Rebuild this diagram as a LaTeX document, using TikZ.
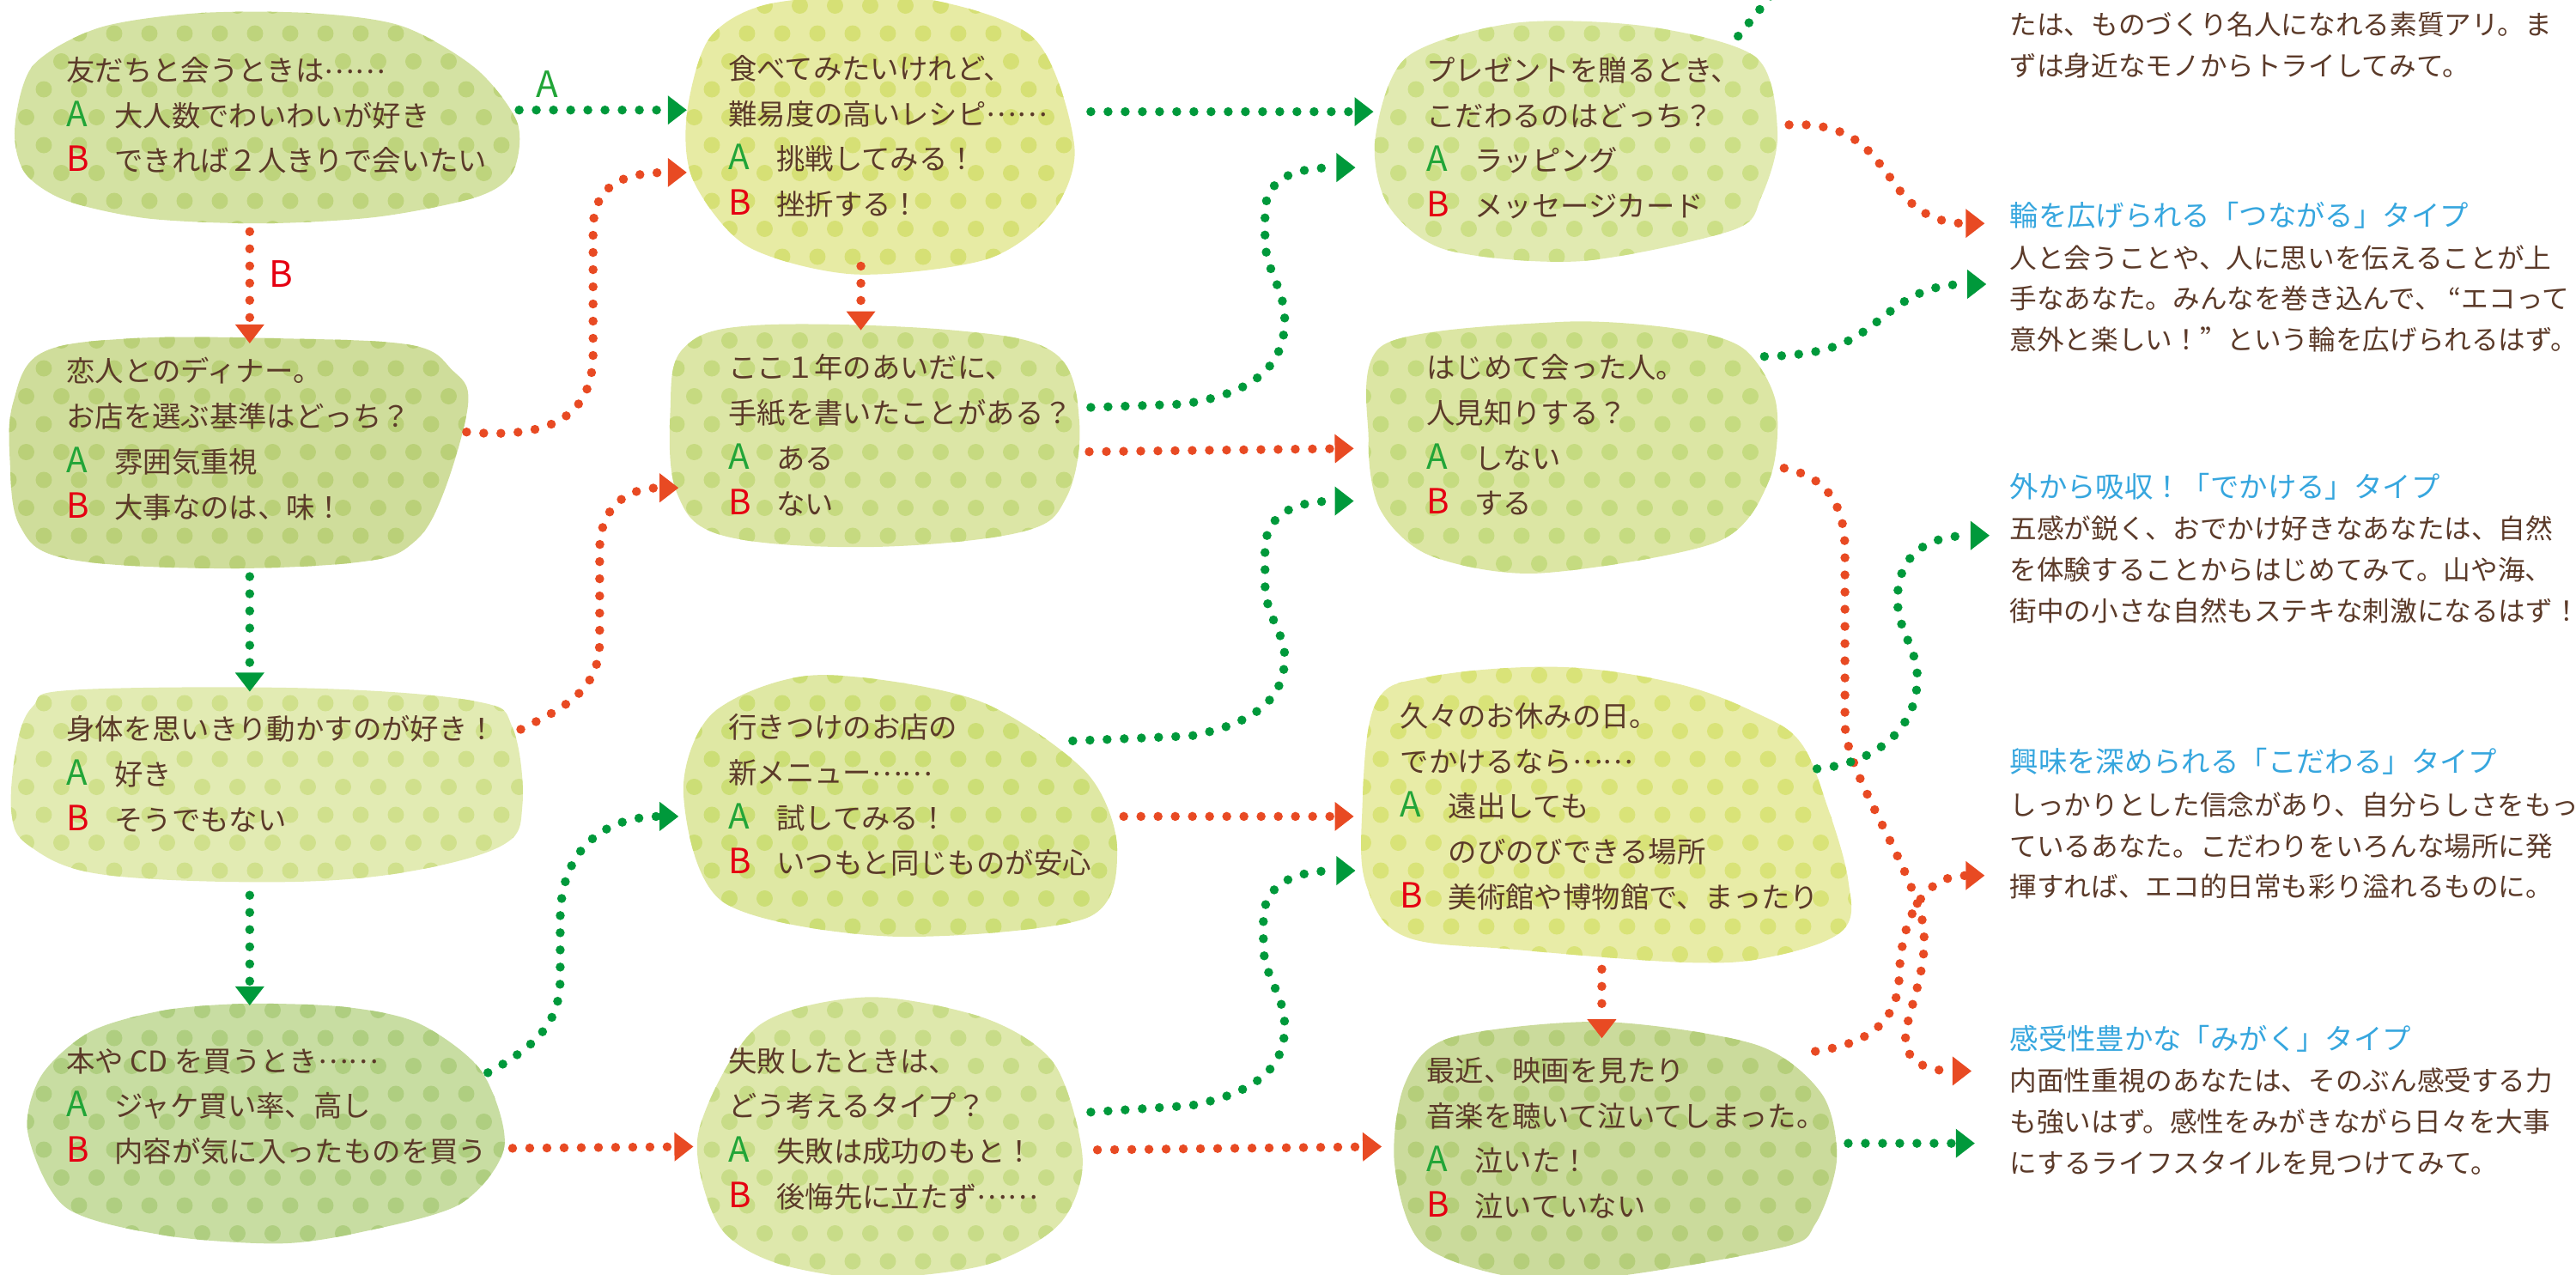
\documentclass[tikz,border=0pt]{standalone}
\usepackage{fontspec}
\setmainfont{Noto Sans CJK JP}
\usetikzlibrary{arrows.meta,patterns.meta}

\definecolor{ink}{HTML}{5B3A29}
\definecolor{agreen}{HTML}{22A538}
\definecolor{bred}{HTML}{E50012}
\definecolor{typeblue}{HTML}{36A6DE}
\definecolor{linkgreen}{HTML}{00993B}
\definecolor{linkred}{HTML}{E84A23}
\definecolor{bg1}{HTML}{D4E2A3}  \definecolor{dt1}{HTML}{BED47C}
\definecolor{bg2}{HTML}{CFDD9B}  \definecolor{dt2}{HTML}{BAD078}
\definecolor{bg3}{HTML}{E2EBB3}  \definecolor{dt3}{HTML}{D0E08C}
\definecolor{bg4}{HTML}{C8DDA2}  \definecolor{dt4}{HTML}{AFCE80}
\definecolor{bg5}{HTML}{E7EBA4}  \definecolor{dt5}{HTML}{D6E075}
\definecolor{bg6}{HTML}{DCE6A6}  \definecolor{dt6}{HTML}{C6DA80}
\definecolor{bg7}{HTML}{DFE8A4}  \definecolor{dt7}{HTML}{CCDE76}
\definecolor{bg8}{HTML}{DEE8AC}  \definecolor{dt8}{HTML}{C8DC88}
\definecolor{bg9}{HTML}{E1EAB1}  \definecolor{dt9}{HTML}{CCDF86}
\definecolor{bg10}{HTML}{DCE6A4} \definecolor{dt10}{HTML}{C5DB80}
\definecolor{bg11}{HTML}{E8ECA7} \definecolor{dt11}{HTML}{D9E378}
\definecolor{bg12}{HTML}{CBDB9C} \definecolor{dt12}{HTML}{B5CE7A}

\tikzdeclarepattern{
  name=spots, type=uncolored,
  bounding box={(0,0) and (0.41cm,0.65cm)},
  tile size={(0.41cm,0.65cm)},
  code={
    \fill (0.1cm,0.16cm) circle (0.095cm);
    \fill (0.305cm,0.485cm) circle (0.095cm);
  }
}

\newcommand\optA[1]{\makebox[0.56cm][l]{\fontsize{11.5pt}{15pt}\selectfont\textcolor{agreen}{A}}#1}
\newcommand\optB[1]{\makebox[0.56cm][l]{\fontsize{11.5pt}{15pt}\selectfont\textcolor{bred}{B}}#1}
\newcommand\jdots{{\addfontfeature{CharacterWidth=Full}\raisebox{0.28em}{……}}}
\newcommand\jq[1]{{\addfontfeature{CharacterWidth=Full}#1}}

\begin{document}
\begin{tikzpicture}[
  x=0.019133cm, y=-0.019133cm,
  blob/.style 2 args={fill=#1, postaction={pattern=spots, pattern color=#2}},
  qtext/.style={anchor=north west, inner sep=0pt, yshift=6.9pt, align=left, text=ink,
    font=\fontsize{9.5pt}{15pt}\selectfont, execute at begin node=\strut},
  ttitle/.style={anchor=north west, inner sep=0pt, yshift=6.9pt, text=typeblue,
    font=\fontsize{9.5pt}{15pt}\selectfont, execute at begin node=\strut},
  tbody/.style={anchor=north west, inner sep=0pt, yshift=6.1pt, align=left, text=ink,
    font=\fontsize{9pt}{13.6pt}\selectfont, execute at begin node=\strut},
  link/.style={line width=0.105cm, line cap=round, dash pattern=on 0pt off 0.2cm,
    -{Triangle[length=0.22cm, width=0.34cm, line width=0pt]}},
  pathA/.style={link, draw=linkgreen, fill=none, color=linkgreen},
  pathB/.style={link, draw=linkred, fill=none, color=linkred},
  lbl/.style={inner sep=0pt, font=\fontsize{12pt}{14pt}\selectfont}
]
\useasboundingbox (0,0) rectangle (1568,776);
\clip (0,0) rectangle (1568,776);

\path[blob={bg1}{dt1}] plot[smooth cycle] coordinates {(9,78) (20,40) (60,17) (120,8) (190,8) (245,16) (290,42) (315,75) (312,105) (290,120) (230,132) (160,136) (90,133) (40,122) (15,105)};
\path[blob={bg2}{dt2}] plot[smooth cycle, tension=0.6] coordinates {(8,245) (25,215) (80,206) (170,206) (250,210) (275,225) (285,245) (270,300) (252,330) (220,342) (130,346) (40,340) (12,320) (6,280)};
\path[blob={bg3}{dt3}] plot[smooth cycle, tension=0.6] coordinates {(10,455) (20,430) (45,420) (190,419) (290,427) (312,443) (318,490) (305,515) (240,532) (160,537) (60,532) (18,515) (7,495)};
\path[blob={bg4}{dt4}] plot[smooth cycle] coordinates {(17,690) (25,655) (55,628) (100,615) (150,611) (210,613) (255,623) (293,652) (307,698) (280,733) (220,750) (170,757) (100,752) (40,735)};
\path[blob={bg5}{dt5}] plot[smooth cycle] coordinates {(432,23) (470,2) (555,-2) (629,23) (654,89) (640,130) (600,158) (520,167) (455,150) (422,110) (418,70)};
\path[blob={bg6}{dt6}] plot[smooth cycle, tension=0.6] coordinates {(416,212) (460,198) (580,201) (642,215) (657,257) (649,303) (621,324) (528,333) (440,326) (412,300) (408,250)};
\path[blob={bg7}{dt7}] plot[smooth cycle] coordinates {(434,434) (496,411) (594,426) (661,470) (680,517) (661,559) (541,570) (440,549) (416,483)};
\path[blob={bg8}{dt8}] plot[smooth cycle] coordinates {(461,625) (528,607) (600,620) (642,648) (659,706) (645,745) (600,770) (528,778) (470,768) (437,745) (425,690)};
\path[blob={bg9}{dt9}] plot[smooth cycle] coordinates {(856,35) (922,14) (1002,16) (1069,35) (1082,82) (1072,120) (1055,140) (962,159) (880,152) (845,125) (837,85)};
\path[blob={bg10}{dt10}] plot[smooth cycle] coordinates {(842,210) (949,196) (1020,200) (1061,212) (1081,245) (1077,292) (1045,330) (936,349) (870,338) (840,310) (833,268)};
\path[blob={bg11}{dt11}] plot[smooth cycle, tension=0.6] coordinates {(837,429) (870,412) (949,406) (1020,416) (1069,434) (1096,452) (1112,490) (1125,536) (1122,566) (1080,582) (1029,586) (922,578) (855,570) (832,540) (829,497)};
\path[blob={bg12}{dt12}] plot[smooth cycle] coordinates {(882,632) (975,622) (1069,636) (1109,666) (1118,706) (1105,745) (1082,760) (949,780) (869,760) (849,710) (855,660)};

\coordinate (q1A) at (316,67);    \coordinate (q5i1) at (418,67);
\coordinate (q1B) at (152,141);   \coordinate (q2i) at (152,209);
\coordinate (q2B) at (284,263);   \coordinate (q5i2) at (418,105);
\coordinate (q2A) at (152,351);   \coordinate (q3i) at (152,421);
\coordinate (q3B) at (317,444);   \coordinate (q6i1) at (413,297);
\coordinate (q3A) at (152,545);   \coordinate (q4i) at (152,612);
\coordinate (q4A) at (297,653);   \coordinate (q7i) at (413,497);
\coordinate (q4B) at (312,699);   \coordinate (q8i) at (422,698);
\coordinate (q5A) at (664,68);    \coordinate (q9i1) at (836,68);
\coordinate (q5B) at (524,162);   \coordinate (q6i2) at (524,201);
\coordinate (q6A) at (664,248);   \coordinate (q9i2) at (825,102);
\coordinate (q6B) at (663,275);   \coordinate (q10i1) at (824,273);
\coordinate (q7A) at (653,451);   \coordinate (q10i2) at (824,305);
\coordinate (q7B) at (684,497);   \coordinate (q11i1) at (824,497);
\coordinate (q8A) at (664,677);   \coordinate (q11i2) at (825,530);
\coordinate (q8B) at (668,700);   \coordinate (q12i1) at (841,698);
\coordinate (q9A) at (1058,22);   \coordinate (t0i) at (1092,-20);
\coordinate (q9B) at (1089,76);   \coordinate (t1i1) at (1208,136);
\coordinate (q10A) at (1074,217); \coordinate (t1i2) at (1209,173);
\coordinate (q10B) at (1086,285); \coordinate (t4i1) at (1200,652);
\coordinate (q11A) at (1106,468); \coordinate (t2i) at (1211,326);
\coordinate (q11B) at (975,590);  \coordinate (q12i2) at (975,632);
\coordinate (q12A) at (1125,696); \coordinate (t4i2) at (1202,696);
\coordinate (q12B) at (1105,640); \coordinate (t3i) at (1208,533);

\draw[pathA] (q1A) -- (q5i1);
\draw[pathB] (q1B) -- (q2i);
\draw[pathB] (q2B) .. controls (340,268) and (361,250) .. (361,215) -- (361,140) .. controls (361,112) and (380,105) .. (q5i2);
\draw[pathA] (q2A) -- (q3i);
\draw[pathB] (q3B) .. controls (345,430) and (365,420) .. (365,390) -- (365,335) .. controls (365,310) and (380,297) .. (q6i1);
\draw[pathA] (q3A) -- (q4i);
\draw[pathA] (q4A) .. controls (330,635) and (341,620) .. (341,595) -- (341,560) .. controls (341,515) and (370,497) .. (q7i);
\draw[pathB] (q4B) -- (q8i);
\draw[pathA] (q5A) -- (q9i1);
\draw[pathB] (q5B) -- (q6i2);
\draw[pathA] (q6A) -- (720,246) .. controls (760,240) and (782,225) .. (782,195) .. controls (782,175) and (770,165) .. (770,145) -- (770,130) .. controls (770,110) and (785,102) .. (q9i2);
\draw[pathB] (q6B) -- (q10i1);
\draw[pathA] (q7A) -- (725,448) .. controls (765,440) and (782,425) .. (782,400) .. controls (782,385) and (770,375) .. (770,355) -- (770,335) .. controls (770,315) and (785,305) .. (q10i2);
\draw[pathB] (q7B) -- (q11i1);
\draw[pathA] (q8A) -- (725,673) .. controls (765,665) and (782,650) .. (782,625) .. controls (782,605) and (769,595) .. (769,575) -- (769,560) .. controls (769,540) and (785,530) .. (q11i2);
\draw[pathB] (q8B) -- (q12i1);
\draw[pathA] (q9A) -- (t0i);
\draw[pathB] (q9B) .. controls (1130,74) and (1140,95) .. (1152,110) .. controls (1162,125) and (1175,136) .. (t1i1);
\draw[pathA] (q10A) .. controls (1120,216) and (1130,205) .. (1145,194) .. controls (1162,180) and (1175,173) .. (t1i2);
\draw[pathB] (q10B) .. controls (1110,290) and (1123,305) .. (1123,335) -- (1123,440) .. controls (1123,470) and (1160,520) .. (1170,560) .. controls (1176,590) and (1158,620) .. (1160,635) .. controls (1162,650) and (1180,652) .. (t4i1);
\draw[pathA] (q11A) .. controls (1140,465) and (1166,445) .. (1167,415) .. controls (1168,395) and (1155,385) .. (1155,365) .. controls (1155,340) and (1170,326) .. (t2i);
\draw[pathB] (q11B) -- (q12i2);
\draw[pathA] (q12A) -- (t4i2);
\draw[pathB] (q12B) .. controls (1140,635) and (1155,620) .. (1156,595) .. controls (1157,560) and (1170,533) .. (t3i);

\node[lbl, text=agreen] (labA) at (333,51) {A};
\node[lbl, text=bred] (labB) at (171,167) {B};

\node[qtext] (q1) at (40,47) {友だちと会うときは\jdots\\\optA{大人数でわいわいが好き}\\\optB{できれば２人きりで会いたい}};
\node[qtext] (q2) at (40,230) {恋人とのディナー。\\お店を選ぶ基準はどっち？\\\optA{雰囲気重視}\\\optB{大事なのは、味！}};
\node[qtext] (q3) at (40,448) {身体を思いきり動かすのが好き！\\\optA{好き}\\\optB{そうでもない}};
\node[qtext] (q4) at (40,650) {本や CD を買うとき\jdots\\\optA{ジャケ買い率、高し}\\\optB{内容が気に入ったものを買う}};
\node[qtext] (q5) at (443,46) {食べてみたいけれど、\\難易度の高いレシピ\jdots\\\optA{挑戦してみる！}\\\optB{挫折する！}};
\node[qtext] (q6) at (443,228) {ここ１年のあいだに、\\手紙を書いたことがある？\\\optA{ある}\\\optB{ない}};
\node[qtext] (q7) at (443,447) {行きつけのお店の\\新メニュー\jdots\\\optA{試してみる！}\\\optB{いつもと同じものが安心}};
\node[qtext] (q8) at (443,650) {失敗したときは、\\どう考えるタイプ？\\\optA{失敗は成功のもと！}\\\optB{後悔先に立たず\jdots}};
\node[qtext] (q9) at (868,47) {プレゼントを贈るとき、\\こだわるのはどっち？\\\optA{ラッピング}\\\optB{メッセージカード}};
\node[qtext] (q10) at (868,228) {はじめて会った人。\\人見知りする？\\\optA{しない}\\\optB{する}};
\node[qtext] (q11) at (852,440) {久々のお休みの日。\\でかけるなら\jdots\\\optA{遠出しても}\\\hspace*{0.56cm}のびのびできる場所\\\optB{美術館や博物館で、まったり}};
\node[qtext] (q12) at (868,656) {最近、映画を見たり\\音楽を聴いて泣いてしまった。\\\optA{泣いた！}\\\optB{泣いていない}};

\node[tbody] (t0b) at (1223,18) {たは、ものづくり名人になれる素質アリ。ま\\ずは身近なモノからトライしてみて。};
\node[ttitle] (t1) at (1223,131) {輪を広げられる「つながる」タイプ};
\node[tbody] (t1b) at (1223,160) {人と会うことや、人に思いを伝えることが上\\手なあなた。みんなを巻き込んで、\hspace{0.25em}“エコって\\意外と楽しい！\jq{”}という輪を広げられるはず。};
\node[ttitle] (t2) at (1223,296) {外から吸収！「でかける」タイプ};
\node[tbody] (t2b) at (1223,325) {五感が鋭く、おでかけ好きなあなたは、自然\\を体験することからはじめてみて。山や海、\\街中の小さな自然もステキな刺激になるはず！};
\node[ttitle] (t3) at (1223,463) {興味を深められる「こだわる」タイプ};
\node[tbody] (t3b) at (1223,493) {しっかりとした信念があり、自分らしさをもっ\\ているあなた。こだわりをいろんな場所に発\\揮すれば、エコ的日常も彩り溢れるものに。};
\node[ttitle] (t4) at (1223,632) {感受性豊かな「みがく」タイプ};
\node[tbody] (t4b) at (1223,661) {内面性重視のあなたは、そのぶん感受する力\\も強いはず。感性をみがきながら日々を大事\\にするライフスタイルを見つけてみて。};
\end{tikzpicture}
\end{document}
